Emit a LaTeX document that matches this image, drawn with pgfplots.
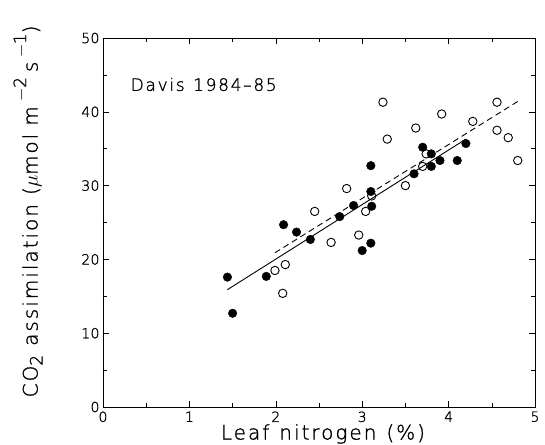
\documentclass[border=0pt]{standalone}
\usepackage{fontspec}
\setmainfont{DejaVu Sans ExtraLight}[LetterSpace=10, FakeBold=1.2]
\usepackage{pgfplots}
\pgfplotsset{compat=1.18}
\newcommand{\sps}[1]{\raisebox{1.05ex}{\fontsize{17}{17}\selectfont #1}}
\newcommand{\sbs}[1]{\raisebox{-0.45ex}{\fontsize{17}{17}\selectfont #1}}
\begin{document}
\begin{tikzpicture}
\useasboundingbox (-103pt,-37pt) rectangle (442pt,407pt);
\begin{axis}[
  at={(0,0)}, anchor=south west,
  scale only axis,
  width=432pt, height=369pt,
  xmin=0, xmax=5, ymin=0, ymax=50,
  xtick={0,1,2,3,4,5}, ytick={0,10,20,30,40,50},
  minor x tick num=1, minor y tick num=1,
  tick align=inside,
  major tick length=6pt, minor tick length=4pt,
  tick style={black, line width=0.6pt},
  axis line style={line width=0.7pt},
  /pgf/number format/assume math mode=true,
  ticklabel style={font=\fontsize{14}{14}\selectfont\addfontfeatures{LetterSpace=2}},
  xticklabel style={yshift=-1pt},
  xlabel={Leaf\hspace{0.5em}nitrogen\hspace{0.5em}(\%)},
  ylabel={CO\sbs{2}\hspace{0.45em}assimilation\hspace{0.45em}($\mu$mol\hspace{0.4em}m\hspace{0.25em}\sps{$-$2}\hspace{0.25em}s\hspace{0.2em}\sps{$-$1})},
  label style={font=\fontsize{20}{20}\selectfont},
  xlabel style={at={(axis description cs:0.5,0)}, anchor=center, yshift=-27pt, xshift=4pt},
  ylabel style={at={(axis description cs:0,0.53)}, anchor=center, yshift=75pt},
  clip=false,
]
% filled
\addplot[only marks, mark=*, mark size=4.3pt, mark options={fill=black, draw=black}] coordinates {
(1.44,17.6) (1.50,12.7) (1.89,17.7) (2.09,24.7) (2.24,23.7) (2.40,22.7)
(2.74,25.8) (2.90,27.3) (3.00,21.2) (3.10,32.7) (3.10,29.2) (3.11,27.2)
(3.10,22.2) (3.60,31.6) (3.70,35.2) (3.80,34.3) (3.80,32.6) (3.90,33.4)
(4.10,33.4) (4.20,35.7)
};
% open
\addplot[only marks, mark=o, mark size=4.2pt, mark options={draw=black, fill=white, line width=0.9pt}] coordinates {
(1.99,18.5) (2.11,19.3) (2.08,15.4) (2.45,26.5) (2.64,22.3) (2.82,29.6)
(2.96,23.3) (3.04,26.5) (3.11,28.6) (3.24,41.3) (3.29,36.3) (3.50,30.0)
(3.62,37.8) (3.70,32.6) (3.74,34.3) (3.92,39.7) (4.28,38.7) (4.56,41.3)
(4.56,37.5) (4.69,36.5) (4.80,33.4)
};
\addplot[black, line width=0.9pt] coordinates {(1.44,15.9) (4.20,36.3)};
\addplot[black, line width=0.9pt, dash pattern=on 6pt off 4pt] coordinates {(1.99,20.9) (4.80,41.4)};
\node[anchor=west, font=\fontsize{17}{17}\selectfont] at (axis cs:0.28,43.7) {Davis\hspace{0.5em}1984--85};
\end{axis}
\end{tikzpicture}
\end{document}
